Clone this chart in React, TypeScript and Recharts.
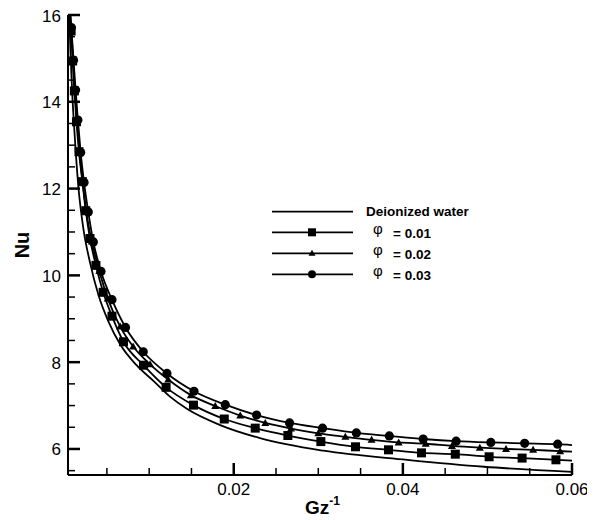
import React from 'react';
import { ComposedChart, Line, XAxis, YAxis, Label, ReferenceLine } from 'recharts';

type Pt = { x: number; y: number };
const toPts = (arr: number[][]): Pt[] => arr.map(([x, y]) => ({ x, y }));

// Deionized water (no symbols)
const waterCurve = toPts([
  [0.00055, 16.0], [0.0007, 15.1], [0.0009, 14.2], [0.0012, 13.2], [0.0016, 12.1],
  [0.0022, 11.1], [0.003, 10.3], [0.004, 9.55], [0.0052, 8.93], [0.0066, 8.4],
  [0.0085, 7.93], [0.0105, 7.57], [0.0125, 7.2], [0.0145, 6.92], [0.0184, 6.55],
  [0.0231, 6.25], [0.0306, 5.96], [0.0405, 5.75], [0.0496, 5.59], [0.06, 5.47],
]);

// phi = 0.01 (squares); first and last entries are the curve ends, the rest carry symbols
const phi01Curve = toPts([
  [0.0006, 16.0],
  [0.00077, 15.63], [0.00095, 14.94], [0.00115, 14.25], [0.0014, 13.54], [0.0017, 12.85],
  [0.0021, 12.16], [0.0025, 11.49], [0.003, 10.85], [0.0037, 10.23], [0.00456, 9.61],
  [0.0056, 9.06], [0.00696, 8.47], [0.00933, 7.93], [0.012, 7.42], [0.01524, 7.01],
  [0.01888, 6.69], [0.02254, 6.48], [0.0264, 6.31], [0.0303, 6.17], [0.0344, 6.05],
  [0.0383, 5.98], [0.0422, 5.91], [0.0462, 5.88], [0.0502, 5.82], [0.0541, 5.79],
  [0.0581, 5.75],
  [0.06, 5.73],
]);

// phi = 0.02 (triangles)
const phi02Curve = toPts([
  [0.00065, 16.0],
  [0.00079, 15.66], [0.001, 14.97], [0.00121, 14.28], [0.00145, 13.6], [0.00175, 12.86],
  [0.00213, 12.16], [0.00256, 11.47], [0.0032, 10.78], [0.0041, 10.1], [0.0051, 9.47],
  [0.00657, 8.82], [0.0081, 8.36], [0.0101, 7.95], [0.01225, 7.6], [0.01493, 7.24],
  [0.01781, 6.99], [0.02077, 6.77], [0.02373, 6.6], [0.02677, 6.47], [0.03, 6.36],
  [0.0332, 6.28], [0.0363, 6.21], [0.0395, 6.15], [0.0427, 6.12], [0.0458, 6.07],
  [0.0491, 6.03], [0.0522, 6.0], [0.0554, 5.98], [0.0586, 5.95],
  [0.06, 5.94],
]);

// phi = 0.03 (circles)
const phi03Curve = toPts([
  [0.0007, 16.0],
  [0.0008, 15.71], [0.00105, 14.96], [0.0013, 14.27], [0.00157, 13.58], [0.0019, 12.83],
  [0.0023, 12.14], [0.0028, 11.46], [0.0034, 10.77], [0.0043, 10.09], [0.0056, 9.44],
  [0.0072, 8.8], [0.0093, 8.24], [0.0121, 7.74], [0.0153, 7.33], [0.019, 7.02],
  [0.0227, 6.78], [0.0266, 6.6], [0.0305, 6.48], [0.0345, 6.37], [0.0384, 6.3],
  [0.0424, 6.23], [0.0463, 6.18], [0.0504, 6.15], [0.0544, 6.13], [0.0583, 6.11],
  [0.06, 6.09],
]);

const xTicks = [0.005, 0.01, 0.015, 0.02, 0.025, 0.03, 0.035, 0.04, 0.045, 0.05, 0.055, 0.06];
const yTicks = [5.5, 6, 6.5, 7, 7.5, 8, 8.5, 9, 9.5, 10, 10.5, 11, 11.5, 12, 12.5, 13, 13.5, 14, 14.5, 15, 15.5, 16];
const xDomain = [0.0004, 0.06];
const yDomain = [5.4, 16];

const waterLabel = 'Deionized water';
const phiLabels = ['0.01', '0.02', '0.03'];
const xTitle = 'Gz';
const xTitleSup = '-1';
const yTitle = 'Nu';

const FONT = '"Liberation Sans", Arial, Helvetica, sans-serif';
const MINOR = 7;
const MAJOR = 12;

// plot box size in pixels (chart 587x512 minus margins and axis sizes)
const PLOT_W = 587 - 23 - 60;
const PLOT_H = 512 - 7 - 45;
const xPerPx = (xDomain[1] - xDomain[0]) / PLOT_W;
const yPerPx = (yDomain[1] - yDomain[0]) / PLOT_H;

const isMultiple = (v: number, step: number) => Math.abs(v / step - Math.round(v / step)) < 1e-6;
const isMajorX = (v: number) => isMultiple(v, 0.02);
const isMajorY = (v: number) => isMultiple(v, 2);

const XTick = (p: any) => {
  const v = p.payload.value;
  if (!isMajorX(v)) return <g />;
  return (
    <text x={p.x} y={p.y + 14} textAnchor="middle" dominantBaseline="central" fontFamily={FONT} fontSize={17} fill="#000">
      {v.toFixed(2)}
    </text>
  );
};

const YTick = (p: any) => {
  const v = p.payload.value;
  if (!isMajorY(v)) return <g />;
  return (
    <text x={p.x - 7} y={p.y + 1} textAnchor="end" dominantBaseline="central" fontFamily={FONT} fontSize={17} fill="#000">
      {v}
    </text>
  );
};

type Shape = 'square' | 'triangle' | 'circle';
const makeDot = (shape: Shape, count: number) => (p: any) => {
  const { cx, cy, index } = p;
  const key = `${shape}-${index}`;
  if (index === 0 || index === count - 1 || cx == null || cy == null) return <g key={key} />;
  if (shape === 'square') return <rect key={key} x={cx - 4.5} y={cy - 4.5} width={9} height={9} fill="#000" />;
  if (shape === 'triangle')
    return <polygon key={key} points={`${cx - 4},${cy + 3} ${cx + 4},${cy + 3} ${cx},${cy - 4}`} fill="#000" />;
  return <circle key={key} cx={cx} cy={cy} r={4.6} fill="#000" />;
};

const XTitle = (p: any) => {
  const vb = p.viewBox || { x: 60, y: 467, width: 504, height: 45 };
  const x0 = vb.x + vb.width / 2 - 15;
  return (
    <text x={x0} y={506} fontFamily={FONT} fontWeight="bold" fontSize={19} fill="#000">
      {xTitle}
      <tspan fontSize={12} dy={-9}>{xTitleSup}</tspan>
    </text>
  );
};

const YTitle = (p: any) => {
  const vb = p.viewBox || { x: 0, y: 7, width: 60, height: 460 };
  const cy = vb.y + vb.height / 2;
  return (
    <text x={14} y={cy} transform={`rotate(-90 14 ${cy})`} textAnchor="middle" dominantBaseline="central"
      fontFamily={FONT} fontWeight="bold" fontSize={20} fill="#000">
      {yTitle}
    </text>
  );
};

// Legend box placed over the plot (left 258, top 190 in chart pixels)
const LegendOverlay = () => {
  const rows = [13.7, 34.3, 55.3, 76.3];
  const x1 = 6;
  const x2 = 87;
  const mx = 46;
  return (
    <svg width={230} height={92} style={{ position: 'absolute', left: 258, top: 190, pointerEvents: 'none', overflow: 'visible' }}>
      <line x1={x1} x2={x2} y1={rows[0]} y2={rows[0]} stroke="#000" strokeWidth={1.8} />
      <text x={100} y={rows[0]} dominantBaseline="central" fontFamily={FONT} fontWeight="bold" fontSize={13.5} fill="#000">
        {waterLabel}
      </text>
      {phiLabels.map((lab, i) => {
        const y = rows[i + 1];
        return (
          <g key={lab}>
            <line x1={x1} x2={x2} y1={y} y2={y} stroke="#000" strokeWidth={1.8} />
            {i === 0 && <rect x={mx - 4} y={y - 4} width={8} height={8} fill="#000" />}
            {i === 1 && <polygon points={`${mx - 3.5},${y + 2.5} ${mx + 3.5},${y + 2.5} ${mx},${y - 3.5}`} fill="#000" />}
            {i === 2 && <circle cx={mx} cy={y} r={4} fill="#000" />}
            <text x={107} y={y - 4} dominantBaseline="central" fontFamily={FONT} fontSize={15} fill="#000">φ</text>
            <text x={127} y={y + 1} dominantBaseline="central" fontFamily={FONT} fontWeight="bold" fontSize={13.5} fill="#000">
              = {lab}
            </text>
          </g>
        );
      })}
    </svg>
  );
};

const lineProps = { type: 'monotone' as const, stroke: '#000', strokeWidth: 1.8, isAnimationActive: false, activeDot: false };

export default function App() {
  return (
    <div style={{ position: 'relative', width: 587, height: 512 }}>
      <ComposedChart width={587} height={512} margin={{ top: 7, right: 23, bottom: 0, left: 0 }}>
        <XAxis
          type="number"
          dataKey="x"
          domain={xDomain}
          allowDataOverflow
          ticks={xTicks}
          interval={0}
          tick={<XTick />}
          tickSize={0}
          tickMargin={0}
          tickLine={false}
          axisLine={{ stroke: '#000', strokeWidth: 2 }}
          height={45}
        >
          <Label content={<XTitle />} />
        </XAxis>
        <XAxis
          xAxisId="top"
          orientation="top"
          type="number"
          domain={xDomain}
          allowDataOverflow
          height={0}
          tick={false}
          tickLine={false}
          axisLine={{ stroke: '#000', strokeWidth: 2 }}
        />
        <YAxis
          type="number"
          dataKey="y"
          domain={yDomain}
          allowDataOverflow
          ticks={yTicks}
          interval={0}
          tick={<YTick />}
          tickSize={0}
          tickMargin={0}
          tickLine={false}
          axisLine={{ stroke: '#000', strokeWidth: 2 }}
          width={60}
        >
          <Label content={<YTitle />} />
        </YAxis>
        <YAxis
          yAxisId="right"
          orientation="right"
          type="number"
          domain={yDomain}
          allowDataOverflow
          width={0}
          tick={false}
          tickLine={false}
          axisLine={{ stroke: '#000', strokeWidth: 2 }}
        />
        {xTicks.map((v) => (
          <ReferenceLine
            key={`xt-${v}`}
            segment={[{ x: v, y: yDomain[0] }, { x: v, y: yDomain[0] + (isMajorX(v) ? MAJOR : MINOR) * yPerPx }]}
            stroke="#000"
            strokeWidth={isMajorX(v) ? 2.5 : 1.5}
            ifOverflow="visible"
          />
        ))}
        {yTicks.map((v) => (
          <ReferenceLine
            key={`yt-${v}`}
            segment={[{ x: xDomain[0], y: v }, { x: xDomain[0] + (isMajorY(v) ? MAJOR : MINOR) * xPerPx, y: v }]}
            stroke="#000"
            strokeWidth={isMajorY(v) ? 2.5 : 1.5}
            ifOverflow="visible"
          />
        ))}
        <Line data={waterCurve} dataKey="y" {...lineProps} dot={false} />
        <Line data={phi01Curve} dataKey="y" {...lineProps} dot={makeDot('square', phi01Curve.length)} />
        <Line data={phi02Curve} dataKey="y" {...lineProps} dot={makeDot('triangle', phi02Curve.length)} />
        <Line data={phi03Curve} dataKey="y" {...lineProps} dot={makeDot('circle', phi03Curve.length)} />
      </ComposedChart>
      <LegendOverlay />
    </div>
  );
}
